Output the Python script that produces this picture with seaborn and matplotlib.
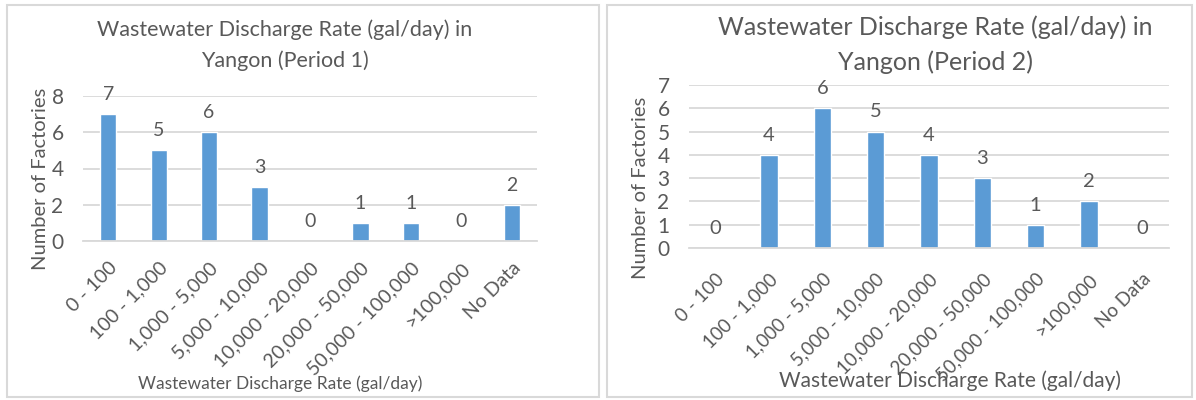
import pandas as pd
import matplotlib
matplotlib.use("Agg")
import matplotlib.pyplot as plt
from matplotlib.patches import Rectangle
import seaborn as sns

# data
categories = ["0 - 100", "100 - 1,000", "1,000 - 5,000", "5,000 - 10,000",
              "10,000 - 20,000", "20,000 - 50,000", "50,000 - 100,000",
              ">100,000", "No Data"]
period1 = [7, 5, 6, 3, 0, 1, 1, 0, 2]
period2 = [0, 4, 6, 5, 4, 3, 1, 2, 0]

titles = ["Wastewater Discharge Rate (gal/day) in\nYangon (Period 1)",
          "Wastewater Discharge Rate (gal/day) in\nYangon (Period 2)"]
xlabel = "Wastewater Discharge Rate (gal/day)"
ylabel = "Number of Factories"

sns.set_style("white")
plt.rcParams["font.family"] = ["Lato", "DejaVu Sans"]

TXT = "#595959"
GRID = "#D9D9D9"
BAR = "#5B9BD5"
W, H = 1196, 400

fig = plt.figure(figsize=(W / 100, H / 100), dpi=100)


def fx(px):
    return px / W


def fy(py):
    return 1 - py / H


# panel frames (pixels: left, top, right, bottom)
for l, t, r, b in [(7, 5, 599, 397), (607, 5, 1192, 397)]:
    fig.patches.append(Rectangle((fx(l), fy(b)), fx(r - l), (b - t) / H,
                                 transform=fig.transFigure, fill=False,
                                 edgecolor=GRID, linewidth=1.5))

# axes boxes in pixels: left, top(ymax), right, bottom(y=0)
boxes = [(83, 96, 537, 241), (689, 85, 1169, 248)]
ymaxes = [8, 7]
ysteps = [2, 1]
title_pos = [(285, 45), (935, 45)]
xlab_pos = [(280, 384), (950, 381)]
ylab_pos = [(41, 179), (640, 188)]
# the two panels of the source image are stretched differently
title_fs = [15.5, 18]
xlab_fs = [12.5, 15]
ylab_fs = [14.5, 14.5]
tick_fs = [14, 13.5]
tick_pad = [13, 16]
ytick_fs = [15, 15]
val_fs = [14, 14.5]

for i, vals in enumerate([period1, period2]):
    l, t, r, b = boxes[i]
    ax = fig.add_axes([fx(l), fy(b), fx(r - l), (b - t) / H])
    df = pd.DataFrame({"Range": categories, "Count": vals})
    sns.barplot(data=df, x="Range", y="Count", color=BAR, width=0.32,
                saturation=1, ax=ax)
    ax.bar_label(ax.containers[0], padding=8, fontsize=val_fs[i], color=TXT)
    ax.set_ylim(0, ymaxes[i])
    ax.set_yticks(range(0, ymaxes[i] + 1, ysteps[i]))
    ax.set_xlim(-0.5, len(categories) - 0.5)
    ax.grid(axis="y", color=GRID, linewidth=1.3)
    ax.set_axisbelow(True)
    for s in ["top", "right", "left"]:
        ax.spines[s].set_visible(False)
    ax.spines["bottom"].set_color(GRID)
    ax.spines["bottom"].set_linewidth(1.3)
    ax.tick_params(axis="y", length=0, pad=14, labelsize=ytick_fs[i],
                   labelcolor=TXT)
    ax.tick_params(axis="x", length=0, pad=tick_pad[i], labelsize=tick_fs[i],
                   labelcolor=TXT)
    plt.setp(ax.get_xticklabels(), rotation=45, ha="right",
             rotation_mode="anchor")
    ax.set_xlabel("")
    ax.set_ylabel("")

    fig.text(fx(title_pos[i][0]), fy(title_pos[i][1]), titles[i],
             ha="center", va="center", fontsize=title_fs[i], color=TXT,
             linespacing=1.6)
    fig.text(fx(xlab_pos[i][0]), fy(xlab_pos[i][1]), xlabel,
             ha="center", va="center", fontsize=xlab_fs[i], color=TXT)
    fig.text(fx(ylab_pos[i][0]), fy(ylab_pos[i][1]), ylabel,
             ha="center", va="center", fontsize=ylab_fs[i], color=TXT,
             rotation=90)

fig.savefig("out.png", dpi=100)
